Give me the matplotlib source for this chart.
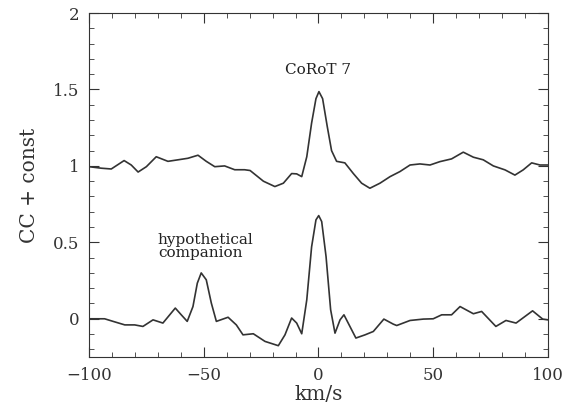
import matplotlib
matplotlib.use("Agg")
import matplotlib.pyplot as plt
from matplotlib.ticker import MultipleLocator, FuncFormatter

# upper curve: CoRoT 7 cross-correlation (offset +1)
star_v = [-100, -94.6, -90.3, -84.7, -81.6, -78.6, -75, -70.7, -65.6, -61.2, -56.9, -52.5,
          -48.9, -45.2, -40.9, -36.5, -32.2, -29.8, -24, -19, -15.3, -11.7, -9.5, -7.3, -5.1,
          -3, -1.1, 0.2, 1.8, 3.8, 5.7, 7.9, 11.5, 15.2, 18.8, 22.4, 26.8, 31.2, 35.5, 39.9,
          44.2, 48.6, 52.9, 58, 63.1, 67.5, 71.8, 76.2, 81.3, 85.6, 89.2, 92.9, 96.5, 100]
star_cc = [0.995, 0.985, 0.98, 1.035, 1.006, 0.96, 0.995, 1.06, 1.03, 1.04, 1.05, 1.07,
           1.03, 0.995, 1.0, 0.975, 0.975, 0.97, 0.90, 0.865, 0.887, 0.95, 0.948, 0.93, 1.06,
           1.28, 1.44, 1.486, 1.44, 1.26, 1.10, 1.03, 1.02, 0.95, 0.887, 0.854, 0.887, 0.93,
           0.963, 1.006, 1.013, 1.006, 1.028, 1.046, 1.09, 1.057, 1.04, 1.0, 0.974, 0.94, 0.974,
           1.02, 1.006, 1.006]

# lower curve: hypothetical companion
comp_v = [-100, -93.2, -89.5, -84.4, -80.1, -76.5, -72.1, -67.8, -62.4, -59.8, -57.2, -54.7,
          -52.8, -51.1, -48.9, -46.7, -44.5, -39.4, -35.8, -32.9, -28.4, -23.3, -17.5, -14.6,
          -11.7, -9.5, -7.3, -5.1, -3, -1.1, 0.1, 1.4, 3.3, 5.3, 7.2, 9.4, 11.1, 13.7, 16.3,
          20.3, 23.9, 28.5, 32.6, 34.1, 39.9, 45.7, 50, 53.7, 58, 61.7, 67.5, 71.1, 77.3, 81.7,
          86.1, 93.3, 97.7, 100]
comp_cc = [0.0, 0.0, -0.017, -0.04, -0.04, -0.05, -0.007, -0.028, 0.07, 0.026, -0.017, 0.08,
           0.233, 0.3, 0.255, 0.103, -0.017, 0.01, -0.04, -0.105, -0.098, -0.148, -0.176, -0.105,
           0.005, -0.028, -0.098, 0.124, 0.47, 0.647, 0.675, 0.636, 0.407, 0.059, -0.094, -0.007,
           0.026, -0.05, -0.126, -0.105, -0.083, -0.002, -0.035, -0.044, -0.011, -0.002, 0.0,
           0.026, 0.026, 0.08, 0.033, 0.048, -0.05, -0.011, -0.028, 0.052, -0.002, -0.007]

plt.rcParams["font.family"] = ["DejaVu Serif"]
ink = "#333333"

fig = plt.figure(figsize=(5.68, 4.08), dpi=100)
ax = fig.add_axes([0.1567, 0.125, 0.808, 0.843])
ax.plot(star_v, star_cc, color=ink, lw=1.2)
ax.plot(comp_v, comp_cc, color=ink, lw=1.2)

ax.set_xlim(-100, 100)
ax.set_ylim(-0.25, 2)
ax.xaxis.set_major_locator(MultipleLocator(50))
ax.xaxis.set_minor_locator(MultipleLocator(10))
ax.yaxis.set_major_locator(MultipleLocator(0.5))
ax.yaxis.set_minor_locator(MultipleLocator(0.1))
ax.yaxis.set_major_formatter(FuncFormatter(lambda v, p: f"{v:g}"))
ax.tick_params(which="both", direction="in", top=True, right=True, color=ink,
               labelsize=12, labelcolor=ink)
ax.tick_params(which="major", length=7, pad=7)
ax.tick_params(which="minor", length=3.5)
for s in ax.spines.values():
    s.set_color(ink)

ax.set_xlabel("km/s", fontsize=14.5, color=ink, labelpad=1)
ax.set_ylabel("CC + const", fontsize=14.5, color=ink, labelpad=10)

ax.text(-0.4, 1.63, "CoRoT 7", fontsize=11, ha="center", va="center", color="#222222")
ax.text(-70, 0.47, "hypothetical\ncompanion", fontsize=11, ha="left", va="center",
        color="#222222", linespacing=0.9)

fig.savefig("out.png", dpi=100)
